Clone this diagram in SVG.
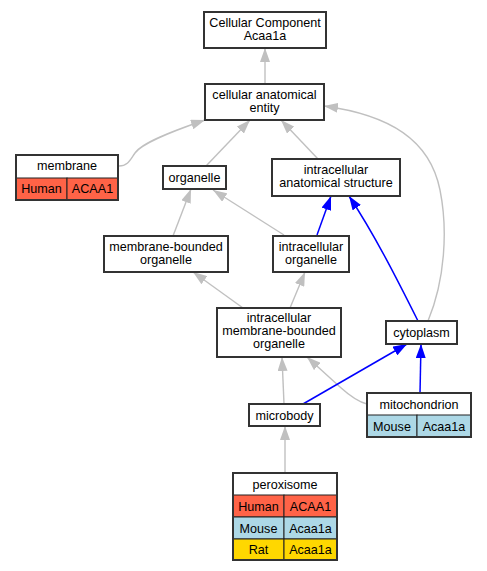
<svg xmlns="http://www.w3.org/2000/svg" width="487" height="571" viewBox="0 0 487 571">
<defs>
<marker id="ag" markerUnits="userSpaceOnUse" markerWidth="14" markerHeight="10" refX="14" refY="5" orient="auto"><path d="M0,0 L14,5 L0,10 z" fill="#c0c0c0"/></marker>
<marker id="ab" markerUnits="userSpaceOnUse" markerWidth="14" markerHeight="10" refX="14" refY="5" orient="auto"><path d="M0,0 L14,5 L0,10 z" fill="#0000ff"/></marker>
</defs>
<style>
text{font-family:"Liberation Sans",Arial,sans-serif;font-size:12.6px;fill:#000;text-anchor:middle}
.n{fill:#fff;stroke:#333;stroke-width:2}
.c{stroke:#222;stroke-width:1}
.h{fill:#ff6347}.m{fill:#add8e6}.r{fill:#ffd700}
.g{fill:none;stroke:#c0c0c0;stroke-width:1.4;marker-end:url(#ag)}
.b{fill:none;stroke:#0000ff;stroke-width:1.5;marker-end:url(#ab)}
</style>
<rect width="487" height="571" fill="#fff"/>
<g id="edges">
<path class="g" d="M265,84 L265,48"/>
<path class="g" d="M119,166 C128,166 130,160 135,153 C142,143 170,132 205,120"/>
<path class="g" d="M206,166 L250,120"/>
<path class="g" d="M318,159 L281,120"/>
<path class="g" d="M428,321 C445,280 448,230 440,190 C430,140 390,115 324,106"/>
<path class="g" d="M173,236 L191,189"/>
<path class="g" d="M284,235 L213,190"/>
<path class="b" d="M317,235 L331,196"/>
<path class="b" d="M418,321 C400,285 375,235 349,196"/>
<path class="g" d="M243,308 L193,272"/>
<path class="g" d="M290,308 L305,272"/>
<path class="g" d="M284,404 L282,357"/>
<path class="g" d="M367,404 C358,402 350,396 340,387 L307,357"/>
<path class="b" d="M303,404 L407,344"/>
<path class="b" d="M420,393 L421,344"/>
<path class="g" d="M285,473 L285,426"/>
</g>
<g id="cc"><rect class="n" x="204" y="12" width="122" height="36"/><text x="265" y="26.5">Cellular Component</text><text x="265" y="39.5">Acaa1a</text></g>
<g id="cae"><rect class="n" x="205" y="84" width="119" height="36"/><text x="264.5" y="98.5">cellular anatomical</text><text x="264.5" y="111.5">entity</text></g>
<g id="membrane">
<rect x="16" y="155" width="102" height="23" fill="#fff"/>
<rect class="h c" x="16" y="178" width="51" height="22"/><rect class="h c" x="67" y="178" width="51" height="22"/>
<rect x="16" y="155" width="102" height="45" fill="none" stroke="#333" stroke-width="2"/>
<text x="67" y="170">membrane</text><text x="41.5" y="193">Human</text><text x="92.5" y="193">ACAA1</text></g>
<g id="organelle"><rect class="n" x="163" y="166" width="63" height="23"/><text x="194.5" y="182">organelle</text></g>
<g id="ias"><rect class="n" x="272" y="159" width="128" height="37"/><text x="336" y="174">intracellular</text><text x="336" y="187">anatomical structure</text></g>
<g id="mbo"><rect class="n" x="104" y="236" width="124" height="36"/><text x="166" y="250.5">membrane-bounded</text><text x="166" y="263.5">organelle</text></g>
<g id="io"><rect class="n" x="273" y="236" width="76" height="36"/><text x="311" y="250.5">intracellular</text><text x="311" y="263.5">organelle</text></g>
<g id="imbo"><rect class="n" x="217" y="308" width="124" height="49"/><text x="279" y="321.7">intracellular</text><text x="279" y="335">membrane-bounded</text><text x="279" y="348">organelle</text></g>
<g id="cytoplasm"><rect class="n" x="386" y="321" width="71" height="23"/><text x="421.5" y="337">cytoplasm</text></g>
<g id="mitochondrion">
<rect x="367" y="393" width="104" height="22" fill="#fff"/>
<rect class="m c" x="367" y="415" width="50" height="22"/><rect class="m c" x="417" y="415" width="54" height="22"/>
<rect x="367" y="393" width="104" height="44" fill="none" stroke="#333" stroke-width="2"/>
<text x="419" y="408.5">mitochondrion</text><text x="392" y="430.5">Mouse</text><text x="444" y="430.5">Acaa1a</text></g>
<g id="microbody"><rect class="n" x="249" y="404" width="71" height="22"/><text x="284.5" y="419.5">microbody</text></g>
<g id="peroxisome">
<rect x="233" y="473" width="104" height="22" fill="#fff"/>
<rect class="h c" x="233" y="495" width="51" height="22"/><rect class="h c" x="284" y="495" width="53" height="22"/>
<rect class="m c" x="233" y="517" width="51" height="22"/><rect class="m c" x="284" y="517" width="53" height="22"/>
<rect class="r c" x="233" y="539" width="51" height="21"/><rect class="r c" x="284" y="539" width="53" height="21"/>
<rect x="233" y="473" width="104" height="87" fill="none" stroke="#333" stroke-width="2"/>
<text x="285" y="488.5">peroxisome</text>
<text x="258.5" y="510.5">Human</text><text x="310.5" y="510.5">ACAA1</text>
<text x="258.5" y="532.5">Mouse</text><text x="310.5" y="532.5">Acaa1a</text>
<text x="258.5" y="554">Rat</text><text x="310.5" y="554">Acaa1a</text></g>
</svg>
